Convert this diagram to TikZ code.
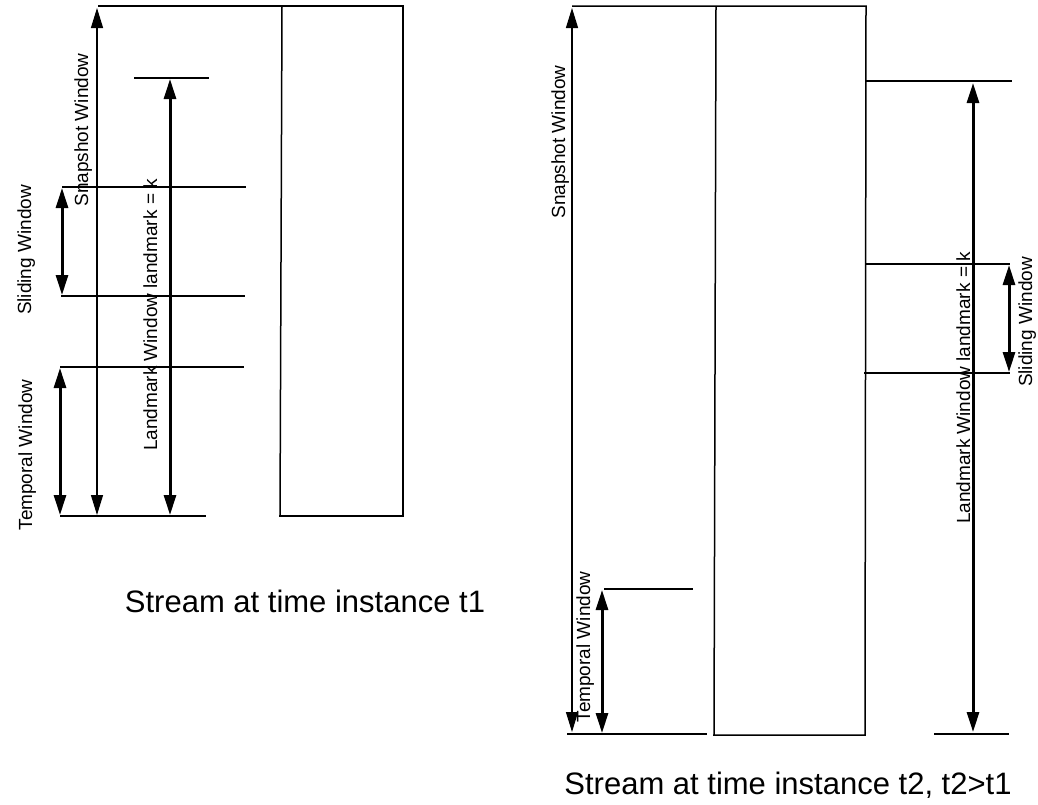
\documentclass[tikz,border=0pt]{standalone}
\usepackage{fontspec}
\setmainfont{Liberation Sans}
\usetikzlibrary{arrows.meta}
\tikzset{
  ln/.style={line width=1.8pt, black},
  frame/.style={line width=1.5pt, black},
  thinarr/.style={line width=1.3pt, {Triangle[length=20pt,width=12pt]}-{Triangle[length=20pt,width=12pt]}},
  thickarr/.style={line width=3pt, {Triangle[length=20pt,width=12pt]}-{Triangle[length=20pt,width=12pt]}},
  lbl/.style={rotate=90, anchor=base, inner sep=0pt, font=\fontsize{19}{19}\selectfont},
  captext/.style={anchor=base, inner sep=0pt, font=\fontsize{31}{31}\selectfont}
}
\begin{document}
\begin{tikzpicture}[x=1pt,y=-1pt]
\useasboundingbox (0,0) rectangle (1038,804);
% ---------- left diagram ----------
\coordinate (LsT) at (97,8);   \coordinate (LsB) at (97,515);
\coordinate (LlT) at (170,79); \coordinate (LlB) at (170,515);
\coordinate (LwT) at (62,188); \coordinate (LwB) at (62,295);
\coordinate (LtT) at (60,368); \coordinate (LtB) at (60,515);
\draw[frame] (98,6) -- (403,6) -- (403,516) -- (279,516);
\draw[frame] (282,6) -- (280,516);
\draw[ln] (134,78) -- (209,78);
\draw[ln] (62,187) -- (246,187);
\draw[ln] (61,296) -- (245,296);
\draw[ln] (60,367) -- (244,367);
\draw[ln] (60,516) -- (206,516);
\draw[thinarr] (LsT) -- (LsB);
\draw[thickarr] (LlT) -- (LlB);
\draw[thickarr] (LwT) -- (LwB);
\draw[thickarr] (LtT) -- (LtB);
\node[lbl] (lsnap) at (88,130) {Snapshot Window};
\node[lbl] (lslide) at (31,250) {Sliding Window};
\node[lbl] (ltemp) at (32,455) {Temporal Window};
\node[lbl] (lland) at (157,315) {Landmark Window landmark = k};
\node[captext] (cap1) at (305,612) {Stream at time instance t1};
% ---------- right diagram ----------
\coordinate (RsT) at (572,8);   \coordinate (RsB) at (572,732);
\coordinate (RlT) at (973,83);  \coordinate (RlB) at (973,732);
\coordinate (RwT) at (1009,265);\coordinate (RwB) at (1009,372);
\coordinate (RtT) at (602,590); \coordinate (RtB) at (602,733);
\draw[frame] (572,6) -- (866,6) -- (865,735) -- (713,735);
\draw[frame] (716,6) -- (714,735);
\draw[ln] (567,734) -- (707,734);
\draw[ln] (866,81) -- (1012,81);
\draw[ln] (866,264) -- (1010,264);
\draw[ln] (864,373) -- (1010,373);
\draw[ln] (934,734) -- (1009,734);
\draw[ln] (604,589) -- (693,589);
\draw[thinarr] (RsT) -- (RsB);
\draw[thickarr] (RlT) -- (RlB);
\draw[thickarr] (RwT) -- (RwB);
\draw[thickarr] (RtT) -- (RtB);
\node[lbl] (rsnap) at (565,142) {Snapshot Window};
\node[lbl] (rslide) at (1032,322) {Sliding Window};
\node[lbl] (rtemp) at (590,647) {Temporal Window};
\node[lbl] (rland) at (970,388) {Landmark Window landmark = k};
\node[captext] (cap2) at (788,794) {Stream at time instance t2, t2>t1};
\end{tikzpicture}
\end{document}
